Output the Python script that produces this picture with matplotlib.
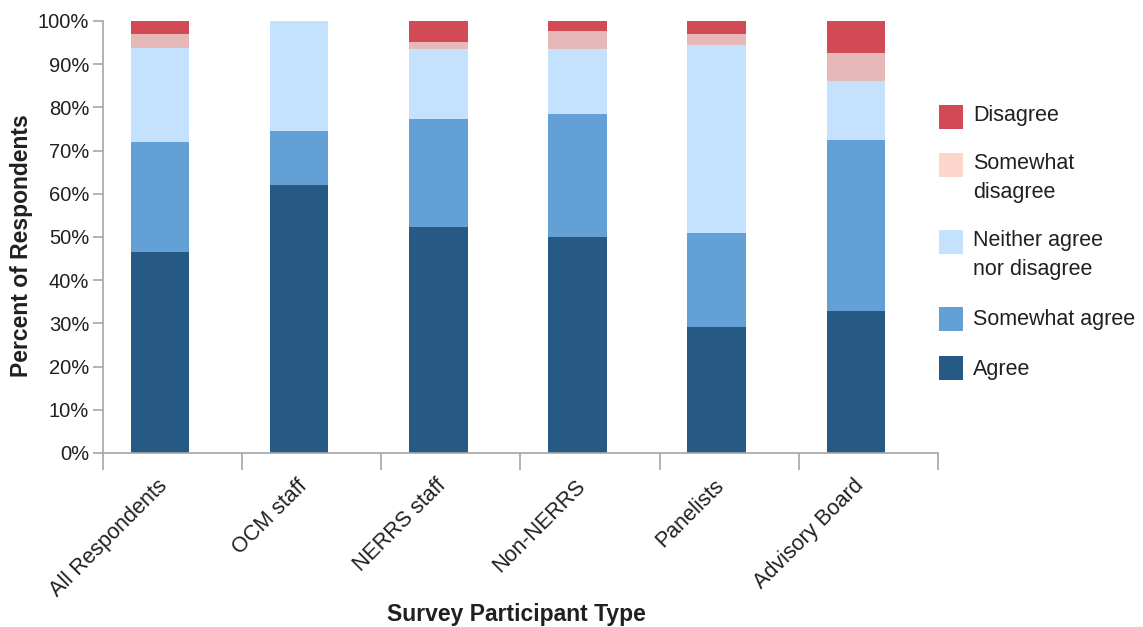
import matplotlib
matplotlib.use("Agg")
import numpy as np
import matplotlib.pyplot as plt
from matplotlib.patches import Rectangle

plt.rcParams['font.family'] = ['Liberation Sans', 'DejaVu Sans']

groups = ["All Respondents", "OCM staff", "NERRS staff", "Non-NERRS", "Panelists", "Advisory Board"]

# percent of respondents per answer, bottom to top of each stack
agree = [46.5, 62.0, 52.4, 50.0, 29.1, 32.9]
somewhat_agree = [25.5, 12.5, 24.9, 28.4, 21.8, 39.6]
neither = [21.8, 25.5, 16.2, 15.1, 43.5, 13.5]
somewhat_disagree = [3.2, 0.0, 1.6, 4.2, 2.6, 6.5]
disagree = [3.0, 0.0, 4.9, 2.3, 3.0, 7.5]

series = [
    ("Agree", agree, "#265983"),
    ("Somewhat agree", somewhat_agree, "#63a0d5"),
    ("Neither agree nor disagree", neither, "#c4e1fe"),
    ("Somewhat disagree", somewhat_disagree, "#e7b8b8"),
    ("Disagree", disagree, "#d34a57"),
]

W, H = 1143, 627
fig = plt.figure(figsize=(W / 100, H / 100), dpi=100)
ax = fig.add_axes([103 / W, 1 - 453 / H, (938 - 103) / W, (453 - 21) / H])

x = np.arange(len(groups))
bar_x = x - 0.09  # bars sit a little left of each slot
bottom = np.zeros(len(groups))
for name, vals, color in series:
    vals = np.array(vals)
    ax.bar(bar_x, vals, width=0.42, bottom=bottom, color=color, linewidth=0)
    bottom += vals

text_color = "#231f20"
axis_color = "#a6a6a6"

ax.set_xlim(-0.5, len(groups) - 0.5)
ax.set_ylim(0, 100)
ax.set_yticks(np.arange(0, 101, 10))
ax.set_yticklabels([f"{v}%" for v in range(0, 101, 10)], fontsize=14.5, color=text_color)
ax.tick_params(axis="y", length=7, width=1.2, color=axis_color, pad=3)

ax.set_xticks(x - 0.11)
ax.set_xticklabels(groups, rotation=45, ha="right", rotation_mode="anchor",
                   fontsize=15.5, color=text_color)
ax.tick_params(axis="x", which="major", length=0, pad=16)
ax.set_xticks(np.arange(-0.5, len(groups)), minor=True)
ax.tick_params(axis="x", which="minor", length=12, width=1.2, color=axis_color)

for side in ["top", "right"]:
    ax.spines[side].set_visible(False)
for side in ["left", "bottom"]:
    ax.spines[side].set_color(axis_color)
    ax.spines[side].set_linewidth(1.2)

ax.set_ylabel("Percent of Respondents", fontsize=16.5, fontweight="bold", color=text_color)
ax.yaxis.set_label_coords((33 - 103) / 835, 0.479)
fig.text(516 / W, 1 - 614 / H, "Survey Participant Type", fontsize=16.5,
         fontweight="bold", color=text_color, ha="center", va="center")

# legend, top entry first: label, swatch colour, swatch centre, text centre
legend_rows = [
    ("Disagree", "#d34a57", 117, 115),
    ("Somewhat\ndisagree", "#fdd5ca", 165, 178),
    ("Neither agree\nnor disagree", "#c4e1fe", 242, 255),
    ("Somewhat agree", "#63a0d5", 319, 320),
    ("Agree", "#265983", 368, 370),
]
for label, color, yc, ty in legend_rows:
    fig.add_artist(Rectangle((939 / W, 1 - (yc + 12) / H), 24 / W, 24 / H,
                             transform=fig.transFigure, color=color, linewidth=0))
    fig.text(973 / W, 1 - ty / H, label, fontsize=15.5, color=text_color,
             ha="left", va="center", linespacing=1.5)

fig.savefig("out.png", dpi=100)
